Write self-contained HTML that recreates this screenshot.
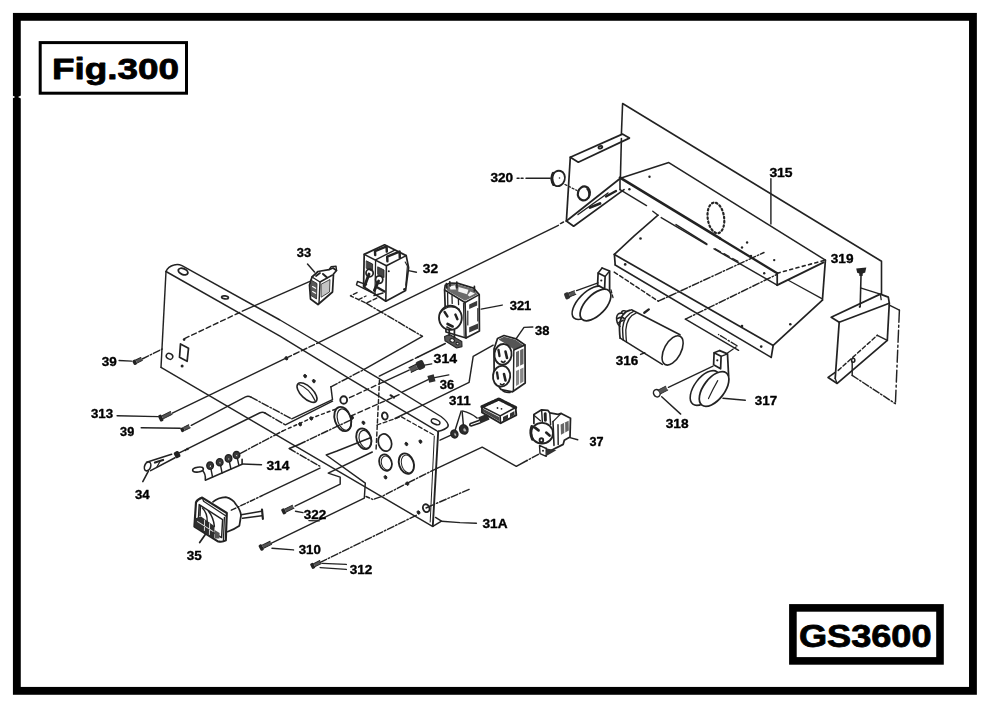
<!DOCTYPE html>
<html><head><meta charset="utf-8"><title>Fig.300 GS3600</title>
<style>
html,body{margin:0;padding:0;background:#fff;}
body{width:1000px;height:718px;overflow:hidden;font-family:"Liberation Sans",sans-serif;}
svg{display:block;}
svg text{font-family:"Liberation Sans",sans-serif;font-weight:bold;fill:#000;}
</style></head><body>
<svg width="1000" height="718" viewBox="0 0 1000 718" stroke-linecap="round" stroke-linejoin="round">
<defs><filter id="soft" x="0" y="0" width="1000" height="718" filterUnits="userSpaceOnUse"><feGaussianBlur stdDeviation="0.38"/></filter></defs>
<rect x="0" y="0" width="1000" height="718" fill="#fff"/>
<rect x="16.85" y="16.85" width="956.1" height="674" fill="none" stroke="#000" stroke-width="7.85" stroke-linejoin="miter"/><path d="M12.5,95.6 L15.2,97 L12.5,98.4 Z M21.5,95.2 L18,97 L21.5,98.8 Z" fill="#fff"/>
<rect x="40.2" y="42.6" width="146.3" height="50.6" fill="#fff" stroke="#000" stroke-width="3" stroke-linejoin="miter"/>
<rect x="792.9" y="607.9" width="147.1" height="53" fill="#fff" stroke="#000" stroke-width="7.6" stroke-linejoin="miter"/>
<text x="52.0" y="79.0" font-size="29.9" textLength="127.0" lengthAdjust="spacingAndGlyphs" stroke="#000" stroke-width="0.8">Fig.300</text>
<text x="798.9" y="647.2" font-size="31.0" textLength="132.7" lengthAdjust="spacingAndGlyphs" stroke="#000" stroke-width="0.8">GS3600</text>
<g filter="url(#soft)">
<path d="M166,271.5 Q168,266.5 174,265 Q178,263.8 182,265.6 L280,320 L380,379.2 L441,416.5 Q449.5,423 448,426.5 Q446,429.5 437.5,431.5" fill="none" stroke="#242424" stroke-width="1.45"/>
<path d="M166.0,271.5 L280.0,336.1 L350.2,379.2 L436.5,430.6" fill="none" stroke="#242424" stroke-width="1.45"/>
<path d="M166.0,271.5 L161.0,367.4" fill="none" stroke="#242424" stroke-width="1.45"/>
<path d="M161.0,367.4 L432.5,526.3" fill="none" stroke="#242424" stroke-width="1.45"/>
<path d="M438.2,431.5 L432.8,526.3" fill="none" stroke="#242424" stroke-width="1.89"/>
<path d="M434.3,436.0 L430.2,522.0" fill="none" stroke="#242424" stroke-width="1.01"/>
<path d="M432.8,526.3 L441.5,521.2 L435.5,517.4" fill="none" stroke="#242424" stroke-width="1.45"/>
<ellipse cx="183.1" cy="271.6" rx="5.0" ry="2.9" fill="none" stroke="#242424" stroke-width="1.89" transform="rotate(22.0 183.1 271.6)"/>
<ellipse cx="435.6" cy="421.8" rx="4.6" ry="2.4" fill="none" stroke="#242424" stroke-width="1.45" transform="rotate(24.0 435.6 421.8)"/>
<path d="M180.5,343.9 L188.5,348.3 L187.1,361.3 L179.5,357.3 Z" fill="none" stroke="#242424" stroke-width="1.74"/>
<ellipse cx="169.5" cy="356.3" rx="3.4" ry="2.8" fill="none" stroke="#242424" stroke-width="1.45" transform="rotate(30.0 169.5 356.3)"/>
<circle cx="182.1" cy="366.0" r="1.5" fill="#242424"/>
<circle cx="184.1" cy="339.6" r="1.3" fill="#242424"/>
<ellipse cx="225.0" cy="297.4" rx="3.4" ry="1.5" fill="none" stroke="#242424" stroke-width="1.74" transform="rotate(8.0 225.0 297.4)"/>
<path d="M379.5,380.0 L376.0,451.0" fill="none" stroke="#242424" stroke-width="1.45" stroke-dasharray="4 2.5"/>
<path d="M377.0,425.0 L401.0,416.6 L434.5,435.4" fill="none" stroke="#242424" stroke-width="1.30" stroke-dasharray="4 2.5"/>
<ellipse cx="307.0" cy="392.6" rx="12.6" ry="6.0" fill="none" stroke="#242424" stroke-width="1.59" transform="rotate(44.0 307.0 392.6)"/>
<path d="M299,384.5 Q309,388 315,400.5" fill="none" stroke="#242424" stroke-width="1.30"/>
<ellipse cx="342.8" cy="419.0" rx="8.0" ry="12.5" fill="none" stroke="#242424" stroke-width="1.89" transform="rotate(-18.0 342.8 419.0)"/>
<ellipse cx="344.2" cy="419.6" rx="6.6" ry="11.0" fill="none" stroke="#242424" stroke-width="1.16" transform="rotate(-18.0 344.2 419.6)"/>
<ellipse cx="363.8" cy="438.8" rx="7.2" ry="10.6" fill="none" stroke="#242424" stroke-width="1.89" transform="rotate(-18.0 363.8 438.8)"/>
<ellipse cx="365.2" cy="439.4" rx="5.8" ry="9.2" fill="none" stroke="#242424" stroke-width="1.16" transform="rotate(-18.0 365.2 439.4)"/>
<ellipse cx="384.9" cy="442.6" rx="6.5" ry="8.8" fill="none" stroke="#242424" stroke-width="1.74" transform="rotate(-18.0 384.9 442.6)"/>
<ellipse cx="385.5" cy="462.6" rx="6.2" ry="8.4" fill="none" stroke="#242424" stroke-width="1.74" transform="rotate(-18.0 385.5 462.6)"/>
<ellipse cx="386.5" cy="463.0" rx="5.0" ry="7.2" fill="none" stroke="#242424" stroke-width="1.01" transform="rotate(-18.0 386.5 463.0)"/>
<ellipse cx="406.4" cy="463.6" rx="7.3" ry="10.5" fill="none" stroke="#242424" stroke-width="1.89" transform="rotate(-18.0 406.4 463.6)"/>
<ellipse cx="407.6" cy="464.0" rx="6.0" ry="9.2" fill="none" stroke="#242424" stroke-width="1.01" transform="rotate(-18.0 407.6 464.0)"/>
<ellipse cx="343.7" cy="400.0" rx="3.4" ry="3.8" fill="none" stroke="#242424" stroke-width="1.89"/>
<ellipse cx="384.8" cy="416.0" rx="2.8" ry="3.6" fill="none" stroke="#242424" stroke-width="1.89" transform="rotate(-15.0 384.8 416.0)"/>
<ellipse cx="426.2" cy="508.2" rx="3.2" ry="4.0" fill="none" stroke="#242424" stroke-width="1.89" transform="rotate(-20.0 426.2 508.2)"/>
<ellipse cx="305.1" cy="376.1" rx="1.3" ry="1.8" fill="#242424" stroke="#242424" stroke-width="0.87" transform="rotate(-25.0 305.1 376.1)"/>
<ellipse cx="313.8" cy="381.1" rx="1.3" ry="1.8" fill="#242424" stroke="#242424" stroke-width="0.87" transform="rotate(-25.0 313.8 381.1)"/>
<ellipse cx="363.4" cy="422.8" rx="1.3" ry="1.8" fill="#242424" stroke="#242424" stroke-width="0.87" transform="rotate(-25.0 363.4 422.8)"/>
<ellipse cx="406.4" cy="444.0" rx="1.3" ry="1.8" fill="#242424" stroke="#242424" stroke-width="0.87" transform="rotate(-25.0 406.4 444.0)"/>
<ellipse cx="420.4" cy="441.6" rx="1.3" ry="1.8" fill="#242424" stroke="#242424" stroke-width="0.87" transform="rotate(-25.0 420.4 441.6)"/>
<ellipse cx="385.5" cy="477.3" rx="1.3" ry="1.8" fill="#242424" stroke="#242424" stroke-width="0.87" transform="rotate(-25.0 385.5 477.3)"/>
<ellipse cx="407.4" cy="483.6" rx="1.3" ry="1.8" fill="#242424" stroke="#242424" stroke-width="0.87" transform="rotate(-25.0 407.4 483.6)"/>
<ellipse cx="352.0" cy="417.6" rx="1.3" ry="1.8" fill="#242424" stroke="#242424" stroke-width="0.87" transform="rotate(-25.0 352.0 417.6)"/>
<ellipse cx="300.1" cy="424.3" rx="1.3" ry="1.8" fill="#242424" stroke="#242424" stroke-width="0.87" transform="rotate(-25.0 300.1 424.3)"/>
<ellipse cx="311.2" cy="418.4" rx="1.3" ry="1.8" fill="#242424" stroke="#242424" stroke-width="0.87" transform="rotate(-25.0 311.2 418.4)"/>
<ellipse cx="286.4" cy="358.3" rx="1.3" ry="1.8" fill="#242424" stroke="#242424" stroke-width="0.87" transform="rotate(-25.0 286.4 358.3)"/>
<ellipse cx="418.5" cy="512.5" rx="1.3" ry="1.8" fill="#242424" stroke="#242424" stroke-width="0.87" transform="rotate(-25.0 418.5 512.5)"/>
<path d="M441.5,521.2 L460.0,522.6 L476.4,523.2" fill="none" stroke="#242424" stroke-width="1.45"/>
<g transform="translate(134.5 362.4) rotate(-26.0)">
<rect x="-1.6" y="-2.6" width="3.6" height="5.2" rx="1.2" fill="#242424"/>
<rect x="2" y="-1.7" width="6.0" height="3.4" fill="#555"/>
<path d="M2,-1.7 H8.0 M2,1.7 H8.0" stroke="#242424" stroke-width="0.9"/>
</g>
<path d="M119.1,360.5 L131.5,361.1" fill="none" stroke="#242424" stroke-width="1.45"/>
<path d="M142.2,359.0 L162.2,349.0" fill="none" stroke="#242424" stroke-width="1.45" stroke-dasharray="7 2 1.5 2"/>
<path d="M184.5,338.6 L242.3,311.2" fill="none" stroke="#242424" stroke-width="1.45" stroke-dasharray="5 3"/>
<path d="M242.3,311.2 L310.5,281.1" fill="none" stroke="#242424" stroke-width="1.45"/>
<g transform="translate(160.6 418.2) rotate(-26.0)">
<rect x="-1.6" y="-3.4" width="3.6" height="6.8" rx="1.2" fill="#242424"/>
<rect x="2" y="-1.7" width="10.0" height="3.4" fill="#555"/>
<path d="M2,-1.7 H12.0 M2,1.7 H12.0" stroke="#242424" stroke-width="0.9"/>
</g>
<path d="M117.1,415.8 L158.2,416.6" fill="none" stroke="#242424" stroke-width="1.45"/>
<path d="M172.3,413.2 L286.0,358.2" fill="none" stroke="#242424" stroke-width="1.45"/>
<path d="M286.0,358.2 L318.5,342.6" fill="none" stroke="#242424" stroke-width="1.45" stroke-dasharray="6 2.5"/>
<path d="M318.5,342.6 L558.4,225.3" fill="none" stroke="#242424" stroke-width="1.45"/>
<path d="M560.5,223.6 L563.5,222.0" fill="none" stroke="#242424" stroke-width="1.45"/>
<g transform="translate(182.3 429.8) rotate(-26.0)">
<rect x="-1.6" y="-2.2" width="3.6" height="4.4" rx="1.2" fill="#242424"/>
<rect x="2" y="-1.7" width="6.0" height="3.4" fill="#555"/>
<path d="M2,-1.7 H8.0 M2,1.7 H8.0" stroke="#242424" stroke-width="0.9"/>
</g>
<path d="M141.2,427.7 L180.3,428.3" fill="none" stroke="#242424" stroke-width="1.45"/>
<path d="M191.3,425.3 L245.5,396.8 Q248.5,395.6 251,397.2" fill="none" stroke="#242424" stroke-width="1.45"/>
<path d="M251.0,397.2 L291.7,418.8" fill="none" stroke="#242424" stroke-width="1.45" stroke-dasharray="7 2 1.5 2"/>
<path d="M291.7,418.8 L332.5,399.6 L330.9,386.8" fill="none" stroke="#242424" stroke-width="1.45"/>
<path d="M330.9,386.8 L364.2,369.4" fill="none" stroke="#242424" stroke-width="1.45" stroke-dasharray="7 2 1.5 2"/>
<path d="M178.3,453.3 L259.5,413.0 Q262.5,411.6 265,413.0" fill="none" stroke="#242424" stroke-width="1.45"/>
<path d="M265.0,413.0 L285.3,424.8" fill="none" stroke="#242424" stroke-width="1.45" stroke-dasharray="7 2 1.5 2"/>
<path d="M285.3,424.8 L332.5,401.2" fill="none" stroke="#242424" stroke-width="1.45"/>
<path d="M240.5,453.3 L282.9,430.9" fill="none" stroke="#242424" stroke-width="1.45" stroke-dasharray="7 2 1.5 2"/>
<path d="M282.9,430.9 L311.7,418.0 L336.0,409.0" fill="none" stroke="#242424" stroke-width="1.45" stroke-dasharray="3 3"/>
<path d="M298.9,444.5 L332.5,428.5 L352.0,419.5" fill="none" stroke="#242424" stroke-width="1.45" stroke-dasharray="7 2 1.5 2"/>
<path d="M242.5,464.0 L261.5,464.8" fill="none" stroke="#242424" stroke-width="1.45"/>
<path d="M231.3,510.2 L262.0,495.7" fill="none" stroke="#242424" stroke-width="1.45" stroke-dasharray="5 2 1.5 2"/>
<path d="M262.0,495.7 L320.0,468.1" fill="none" stroke="#242424" stroke-width="1.45"/>
<g transform="translate(283.5 511.5) rotate(-26.0)">
<rect x="-1.6" y="-3.0" width="3.6" height="6.0" rx="1.2" fill="#242424"/>
<rect x="2" y="-1.7" width="9.0" height="3.4" fill="#555"/>
<path d="M2,-1.7 H11.0 M2,1.7 H11.0" stroke="#242424" stroke-width="0.9"/>
</g>
<path d="M295.5,511.2 L303.0,512.6" fill="none" stroke="#242424" stroke-width="1.45"/>
<path d="M309.0,520.6 L319.0,520.9" fill="none" stroke="#242424" stroke-width="1.45"/>
<path d="M295.1,506.2 L340.2,484.1 L340.2,477.1 L328.2,473.1 L372.3,452.0" fill="none" stroke="#242424" stroke-width="1.45"/>
<g transform="translate(261.0 547.6) rotate(-26.0)">
<rect x="-1.6" y="-3.2" width="3.6" height="6.4" rx="1.2" fill="#242424"/>
<rect x="2" y="-1.7" width="9.0" height="3.4" fill="#555"/>
<path d="M2,-1.7 H11.0 M2,1.7 H11.0" stroke="#242424" stroke-width="0.9"/>
</g>
<path d="M272.0,548.3 L293.5,549.9" fill="none" stroke="#242424" stroke-width="1.45"/>
<path d="M271.0,543.3 L364.3,498.2 L365.3,483.1 L326.2,455.0 L337.0,451.0 L371.0,437.5" fill="none" stroke="#242424" stroke-width="1.45"/>
<g transform="translate(312.5 566.0) rotate(-26.0)">
<rect x="-1.6" y="-3.0" width="3.6" height="6.0" rx="1.2" fill="#242424"/>
<rect x="2" y="-1.7" width="7.0" height="3.4" fill="#555"/>
<path d="M2,-1.7 H9.0 M2,1.7 H9.0" stroke="#242424" stroke-width="0.9"/>
</g>
<path d="M322.2,563.4 L346.3,564.4" fill="none" stroke="#242424" stroke-width="1.45"/>
<path d="M320.2,567.6 L346.3,569.4" fill="none" stroke="#242424" stroke-width="1.45"/>
<path d="M320.2,562.4 L416.5,515.2" fill="none" stroke="#242424" stroke-width="1.45" stroke-dasharray="7 2 1.5 2"/>
<path d="M298.9,444.5 L289.3,448.5" fill="none" stroke="#242424" stroke-width="1.45"/>
<path d="M289.3,448.5 L319.7,466.1" fill="none" stroke="#242424" stroke-width="1.45" stroke-dasharray="7 2 1.5 2"/>
<path d="M366.2,303.2 L422.4,336.3" fill="none" stroke="#242424" stroke-width="1.45" stroke-dasharray="7 2 1.5 2"/>
<path d="M422.4,336.3 L364.2,369.4" fill="none" stroke="#242424" stroke-width="1.45"/>
<path d="M445.3,343.5 L418.0,357.0" fill="none" stroke="#242424" stroke-width="1.45"/>
<path d="M418.0,357.0 L411.0,360.4" fill="none" stroke="#242424" stroke-width="1.45" stroke-dasharray="3 2.5"/>
<path d="M411.0,360.4 L379.3,376.1" fill="none" stroke="#242424" stroke-width="1.45"/>
<g transform="translate(420.4 365.0) rotate(154)"><rect x="-4" y="-4.4" width="8" height="8.8" rx="2.2" fill="#2a2a2a"/><rect x="4" y="-2.6" width="7.5" height="5.2" fill="#555"/><path d="M4,-2.6 H11.5 M4,2.6 H11.5" stroke="#141414" stroke-width="1"/></g>
<path d="M424.7,365.1 L431.7,363.9" fill="none" stroke="#242424" stroke-width="1.45"/>
<path d="M409.1,370.1 L383.1,382.1" fill="none" stroke="#242424" stroke-width="1.45"/>
<path d="M383.1,382.1 L347.5,398.6" fill="none" stroke="#242424" stroke-width="1.45" stroke-dasharray="5 3"/>
<path d="M493.2,345.2 L473.2,356.3 L469.1,382.3 L420.0,406.4 L395.0,418.5" fill="none" stroke="#242424" stroke-width="1.45"/>
<rect x="428.2" y="375.1" width="6.5" height="7" fill="#2e2e2e" transform="rotate(-15 431.4 378.6)"/>
<path d="M434.7,377.6 L448.8,374.9" fill="none" stroke="#242424" stroke-width="1.45"/>
<path d="M428.2,379.6 L402.1,392.2" fill="none" stroke="#242424" stroke-width="1.45"/>
<path d="M399.1,394.7 L351.0,416.0" fill="none" stroke="#242424" stroke-width="1.45" stroke-dasharray="5 3"/>
<path d="M390.5,395.2 L394.0,397.6" fill="none" stroke="#242424" stroke-width="2.03"/>
<path d="M461.1,411.1 L455.1,430.2" fill="none" stroke="#242424" stroke-width="1.45"/>
<path d="M462.1,411.1 L463.5,426.2" fill="none" stroke="#242424" stroke-width="1.45"/>
<path d="M463.1,411.1 Q470,412.5 477.2,418.1" fill="none" stroke="#242424" stroke-width="1.45"/>
<path d="M451.0,435.2 L440.0,440.2" fill="none" stroke="#242424" stroke-width="1.45"/>
<path d="M538.4,454.3 L527.0,460.5" fill="none" stroke="#242424" stroke-width="1.45" stroke-dasharray="7 2 1.5 2"/>
<path d="M527.0,460.5 L516.3,466.3 L482.2,447.2 L437.0,468.3" fill="none" stroke="#242424" stroke-width="1.45"/>
<path d="M437.0,468.3 L407.4,483.1 L382.4,496.2 L373.0,499.5 L366.0,496.5" fill="none" stroke="#242424" stroke-width="1.45" stroke-dasharray="7 2 1.5 2"/>
<path d="M469.1,489.4 L434.5,504.2" fill="none" stroke="#242424" stroke-width="1.45" stroke-dasharray="7 2 1.5 2"/>
<path d="M433.0,504.8 L426.0,508.0" fill="none" stroke="#242424" stroke-width="1.45"/>
<ellipse cx="147.6" cy="466.4" rx="3.0" ry="4.6" fill="none" stroke="#242424" stroke-width="1.59" transform="rotate(20.0 147.6 466.4)"/>
<path d="M146.6,462.2 L171.6,454.2" fill="none" stroke="#242424" stroke-width="1.59"/>
<path d="M150.6,470.6 L175.0,457.8" fill="none" stroke="#242424" stroke-width="1.59"/>
<path d="M155.0,462.5 L163.0,460.0" fill="none" stroke="#242424" stroke-width="2.32"/>
<path d="M157.0,466.8 L160.0,461.5" fill="none" stroke="#242424" stroke-width="1.30"/>
<rect x="174.6" y="451.4" width="5.4" height="6.6" rx="1.5" fill="#242424" transform="rotate(-27 177 455)"/>
<path d="M148.4,471.2 L142.8,481.6" fill="none" stroke="#242424" stroke-width="1.59"/>
<circle cx="187.5" cy="449.0" r="1.3" fill="#242424"/>
<circle cx="185.5" cy="450.2" r="1.0" fill="#242424"/>
<ellipse cx="198.0" cy="469.6" rx="5.4" ry="2.4" fill="none" stroke="#242424" stroke-width="1.59" transform="rotate(-8.0 198.0 469.6)"/>
<path d="M202.5,470.5 Q206,474 205.3,480.2 L242.1,464.2 L242.1,459.2" fill="none" stroke="#242424" stroke-width="1.59"/>
<path d="M210.9,468.6 L212.5,476.8" fill="none" stroke="#242424" stroke-width="1.45"/>
<ellipse cx="210.1" cy="465.6" rx="3.3" ry="3.6" fill="#3a3a3a" stroke="#242424" stroke-width="1.45"/>
<ellipse cx="210.5" cy="466.2" rx="1.2" ry="1.3" fill="#ddd" stroke="#242424" stroke-width="0.87"/>
<path d="M220.5,465.2 L222.1,473.1" fill="none" stroke="#242424" stroke-width="1.45"/>
<ellipse cx="219.7" cy="462.2" rx="3.3" ry="3.6" fill="#3a3a3a" stroke="#242424" stroke-width="1.45"/>
<ellipse cx="220.1" cy="462.8" rx="1.2" ry="1.3" fill="#ddd" stroke="#242424" stroke-width="0.87"/>
<path d="M229.3,461.4 L230.9,469.0" fill="none" stroke="#242424" stroke-width="1.45"/>
<ellipse cx="228.5" cy="458.4" rx="3.3" ry="3.6" fill="#3a3a3a" stroke="#242424" stroke-width="1.45"/>
<ellipse cx="228.9" cy="459.0" rx="1.2" ry="1.3" fill="#ddd" stroke="#242424" stroke-width="0.87"/>
<path d="M237.3,458.0 L238.9,465.4" fill="none" stroke="#242424" stroke-width="1.45"/>
<ellipse cx="236.5" cy="455.0" rx="3.3" ry="3.6" fill="#3a3a3a" stroke="#242424" stroke-width="1.45"/>
<ellipse cx="236.9" cy="455.6" rx="1.2" ry="1.3" fill="#ddd" stroke="#242424" stroke-width="0.87"/>
<path d="M213.0,501.9 Q218,497.6 225.8,497.2 Q232.5,498.6 236.0,504.5 Q240.6,510 241.0,515.5 L239.4,525.7 Q234,529.5 227.5,531.7" fill="none" stroke="#242424" stroke-width="1.74"/>
<path d="M196.0,502.2 Q197.5,499.2 202.2,497.6 L226.8,513.0 L225.8,540.4 Q222,542.6 217.5,541.2 L194.4,526.6 Z" fill="#fff" stroke="#242424" stroke-width="2.17"/>
<path d="M199.2,504.6 L222.6,519.6 L221.6,537.6 L198.2,523.0 Z" fill="none" stroke="#242424" stroke-width="1.45"/>
<path d="M202.2,497.6 L203.6,501.2 L226.0,516.0 M224.4,517.4 L223.4,540.6" fill="none" stroke="#242424" stroke-width="1.30"/>
<path d="M194.6,518.4 L201,516.6 L214.6,526.2 L214.0,538.8 L194.6,526.4 Z" fill="#2e2e2e"/>
<path d="M214.6,530 L219.6,533 L219.4,538.6 L214.4,538.4 Z" fill="#555"/>
<path d="M202.4,508 Q207.4,513 207.2,521.4 M208.4,511 Q213.6,517.6 214.4,526.4 M200.4,506.4 L200.0,515.6" fill="none" stroke="#242424" stroke-width="1.45"/>
<path d="M197.6,521.6 L213,531.4 M204.6,520 L204.4,530.6 M209.6,523.6 L209.4,534.4" fill="none" stroke="#ddd" stroke-width="1.01"/>
<path d="M241.1,514.7 L261.5,511.3" fill="none" stroke="#242424" stroke-width="1.59"/>
<path d="M242.6,518.3 L261.8,515.7" fill="none" stroke="#242424" stroke-width="1.59"/>
<path d="M262.0,509.6 L262.9,518.8" fill="none" stroke="#242424" stroke-width="2.17"/>
<path d="M205.3,534.5 L199.7,542.5" fill="none" stroke="#242424" stroke-width="1.74"/>
<path d="M307.5,264.0 L314.5,272.0" fill="none" stroke="#242424" stroke-width="1.45"/>
<path d="M312,277 L318,271.5 L329,269.6 L333,268 L336.5,270.5 L333.5,274 L332.5,292 L318,304.5 L310.5,299 L309.5,285 Z" fill="#fff" stroke="#242424" stroke-width="1.74"/>
<path d="M329,269.6 L331,266.8 L336,266.2 L336.5,270.5" fill="none" stroke="#242424" stroke-width="1.45"/>
<path d="M312.0,277.0 L320.0,282.0 L332.5,275.0" fill="none" stroke="#242424" stroke-width="1.45"/>
<path d="M320.0,282.0 L319.0,303.5" fill="none" stroke="#242424" stroke-width="1.45"/>
<path d="M311,280 L317,283.5 L316.5,299 L311,295.5 Z" fill="#5a5a5a" stroke="#242424" stroke-width="0.8"/>
<path d="M321.5,284 L330,279.5 L329.5,292 L321.5,297 Z" fill="#c4c4c4" stroke="#242424" stroke-width="0.8"/>
<path d="M312.6,286.5 L315.6,288.3" fill="none" stroke="#fff" stroke-width="1.16"/>
<path d="M312.6,291.5 L315.6,293.3" fill="none" stroke="#fff" stroke-width="1.16"/>
<path d="M323.0,274.0 L327.0,277.5" fill="none" stroke="#242424" stroke-width="2.03"/>
<path d="M316.0,276.0 L320.0,273.0" fill="none" stroke="#242424" stroke-width="1.74"/>
<path d="M408.6,270.6 L416.4,272.2" fill="none" stroke="#242424" stroke-width="1.45"/>
<path d="M364.2,254.4 L384.6,244.8 L406.2,255.6 L408.6,267.6 L405.6,290.4 L385.8,301.2 L363.6,286.8 Z" fill="#fff" stroke="#242424" stroke-width="1.74"/>
<path d="M364.2,254.4 L386.4,265.8 L406.2,255.6" fill="none" stroke="#242424" stroke-width="1.59"/>
<path d="M386.4,265.8 L385.8,301.2" fill="none" stroke="#242424" stroke-width="1.59"/>
<path d="M375.6,259.8 L394.8,250.2" fill="none" stroke="#242424" stroke-width="1.30"/>
<path d="M375.6,259.8 L375.0,294.0" fill="none" stroke="#242424" stroke-width="1.30"/>
<path d="M375.2,255 L375,251.2 L386.6,246.4 L386.8,251.6" fill="none" stroke="#242424" stroke-width="2.46"/>
<path d="M387.4,261.2 L387.2,256.6 L399.6,251.6 L399.8,257.6" fill="none" stroke="#242424" stroke-width="2.46"/>
<path d="M366.6,261 L372.6,264 L372.6,271.4 L366.6,268.4 Z" fill="#444" stroke="#242424" stroke-width="0.9"/>
<path d="M378,267 L384,270 L384,277.6 L378,274.6 Z" fill="#444" stroke="#242424" stroke-width="0.9"/>
<ellipse cx="369.6" cy="273.0" rx="3.6" ry="3.8" fill="none" stroke="#242424" stroke-width="1.74"/>
<ellipse cx="379.2" cy="279.6" rx="3.6" ry="3.8" fill="none" stroke="#242424" stroke-width="1.74"/>
<path d="M369.0,274.0 L364.8,285.6" fill="none" stroke="#242424" stroke-width="2.90"/>
<path d="M378.6,281.0 L374.4,290.4" fill="none" stroke="#242424" stroke-width="2.90"/>
<path d="M366.5,284.6 L357.5,281.5 L356.5,284.8 L372.0,292.6" fill="none" stroke="#242424" stroke-width="1.45"/>
<path d="M374.0,295.5 L383.0,293.0" fill="none" stroke="#242424" stroke-width="1.45"/>
<path d="M377.5,287.5 L384.5,291.5" fill="none" stroke="#242424" stroke-width="2.32"/>
<path d="M405.2,262.0 L407.4,266.0 L405.8,285.2" fill="none" stroke="#242424" stroke-width="1.16"/>
<circle cx="404.4" cy="289.2" r="1.2" fill="#242424"/>
<circle cx="388.8" cy="271.2" r="1.0" fill="#242424"/>
<path d="M357.0,292.6 L350.4,295.8 L366.2,303.2 L377.0,298.0" fill="none" stroke="#242424" stroke-width="1.45" stroke-dasharray="4 2.5"/>
<path d="M358.5,299.6 L366.0,296.0" fill="none" stroke="#242424" stroke-width="1.30" stroke-dasharray="4 2.5"/>
<path d="M481.2,309.1 L502.2,305.1" fill="none" stroke="#242424" stroke-width="1.45"/>
<path d="M444.6,290 L445.2,285.4 L450,283.0 L458,283.4 L473.5,288.2 L479.2,294.6 L479.4,331 L466,338 L446,332 Z" fill="#fff" stroke="#242424" stroke-width="1.74"/>
<path d="M465.0,302.5 L479.2,294.6" fill="none" stroke="#242424" stroke-width="1.45"/>
<path d="M465.0,302.5 L466.0,338.0" fill="none" stroke="#242424" stroke-width="1.74"/>
<path d="M463.4,303.0 L464.2,336.6" fill="none" stroke="#242424" stroke-width="1.01"/>
<path d="M444.6,290.0 L465.0,302.5" fill="none" stroke="#242424" stroke-width="1.59"/>
<path d="M446,286 L450.4,283.8 L457.6,284.2 L472.8,288.8 L477.6,294.4 L465,300.8 L447,290.6 Z" fill="#6a6a6a"/>
<path d="M449.6,286.6 L455,285.2 L456,289.6 L450.4,289.4 Z M458.6,287 L468.4,289.8 L467,294.2 L458.2,291.6 Z M470.4,291.4 L475,293.6 L469.4,296.6 L467.6,295 Z" fill="#f4f4f4"/>
<path d="M446.4,283.6 L446.8,288 M449.8,281.8 L450,286 M456.8,282 L457,287.6 M474.4,286.4 L474.4,291" fill="none" stroke="#242424" stroke-width="1.74"/>
<path d="M447.6,293 L447.8,305 M452,295.6 L452.2,303.4 M458.4,299.4 L458.6,304.6" fill="none" stroke="#242424" stroke-width="1.30"/>
<ellipse cx="450.4" cy="317.8" rx="11.4" ry="12.0" fill="#fff" stroke="#242424" stroke-width="1.89"/>
<path d="M440.2,313 Q448,303 459.4,309.4" fill="none" stroke="#242424" stroke-width="1.30"/>
<path d="M444.6,312.0 L447.4,316.4" fill="none" stroke="#242424" stroke-width="2.46"/>
<path d="M455.4,314.6 L457.4,319.2" fill="none" stroke="#242424" stroke-width="2.46"/>
<path d="M447.6,324.0 L452.6,326.4" fill="none" stroke="#242424" stroke-width="2.75"/>
<path d="M446.8,327 L452,329.6" fill="none" stroke="#242424" stroke-width="1.45"/>
<path d="M469.2,304.4 L477.2,300.8 L477.2,305.4 L469.2,309 Z" fill="#3a3a3a"/>
<path d="M469.2,327.2 L478,323.4 L478,328.8 L469.2,332.6 Z" fill="#3a3a3a"/>
<path d="M467.8,311.0 L467.8,325.0" fill="none" stroke="#242424" stroke-width="1.16"/>
<path d="M477.8,308.6 L477.8,321.0" fill="none" stroke="#242424" stroke-width="1.16"/>
<path d="M444.6,336.6 L449.6,334.4 L461.8,341.4 L462,346.6 L456.6,348 L445,340.8 Z" fill="#555" stroke="#242424" stroke-width="1.1"/>
<path d="M449.2,329.6 L449.2,335.0" fill="none" stroke="#242424" stroke-width="1.74"/>
<path d="M454.4,330.2 L454.4,337.6" fill="none" stroke="#242424" stroke-width="1.74"/>
<ellipse cx="452.2" cy="340.4" rx="2.3" ry="1.7" fill="#fff" stroke="#242424" stroke-width="1.16" transform="rotate(20.0 452.2 340.4)"/>
<ellipse cx="457.6" cy="343.6" rx="1.6" ry="1.2" fill="#ddd" stroke="#242424" stroke-width="1.01" transform="rotate(20.0 457.6 343.6)"/>
<path d="M516.2,338.6 L524.0,327.4 L532.8,327.0" fill="none" stroke="#242424" stroke-width="1.45"/>
<path d="M494,349 L497.5,338.5 L504,335.5 L516,338.8 L525,345 L525.2,383 L512.5,391.8 L501,389.5 L494.2,380 Z" fill="#fff" stroke="#242424" stroke-width="1.74"/>
<path d="M498.5,339.5 L504,336.8 L515.5,339.8 L523.5,345.5 L514,349.5 L506,344 Z" fill="#555"/>
<path d="M513.8,350.0 L525.0,345.0" fill="none" stroke="#242424" stroke-width="1.45"/>
<path d="M513.8,350.0 L513.4,391.0" fill="none" stroke="#242424" stroke-width="1.45"/>
<ellipse cx="503.0" cy="354.4" rx="8.6" ry="10.4" fill="#fff" stroke="#242424" stroke-width="1.89" transform="rotate(8.0 503.0 354.4)"/>
<ellipse cx="501.6" cy="376.2" rx="8.6" ry="10.4" fill="#fff" stroke="#242424" stroke-width="1.89" transform="rotate(8.0 501.6 376.2)"/>
<path d="M498.5,350.0 L499.5,356.0" fill="none" stroke="#242424" stroke-width="2.32"/>
<path d="M505.5,351.5 L507.0,358.0" fill="none" stroke="#242424" stroke-width="2.61"/>
<path d="M501.5,361.4 Q503.5,363.4 505,361.2" fill="none" stroke="#242424" stroke-width="1.74"/>
<path d="M497.0,372.5 L498.0,378.5" fill="none" stroke="#242424" stroke-width="2.32"/>
<path d="M504.0,374.0 L505.5,380.5" fill="none" stroke="#242424" stroke-width="2.61"/>
<path d="M500.5,384 Q502.5,386 504,383.8" fill="none" stroke="#242424" stroke-width="1.74"/>
<path d="M516,352 L523.5,348.6 L523.5,364 L516,367.6 Z" fill="#666"/>
<path d="M516,371 L523.5,367.6 L523.5,381.5 L516,386 Z" fill="#888"/>
<path d="M519.6,350.4 L519.6,384.0" fill="none" stroke="#fff" stroke-width="1.01"/>
<path d="M502,389.6 Q504,392.8 510,392.4" fill="none" stroke="#242424" stroke-width="1.74"/>
<path d="M482,406.8 L498.8,399.1 L515.6,407.5 L516.3,415.2 L500.6,423.2 L482,412.4 Z" fill="#fff" stroke="#242424" stroke-width="1.89"/>
<path d="M482.0,406.8 L500.2,415.9 L515.6,407.5" fill="none" stroke="#242424" stroke-width="1.59"/>
<path d="M500.2,415.9 L500.6,423.2" fill="none" stroke="#242424" stroke-width="1.45"/>
<path d="M482.0,406.8 L498.8,399.1 L515.6,407.5" fill="none" stroke="#242424" stroke-width="3.19" stroke-dasharray="2 1.6"/>
<path d="M483,408.8 L499.6,417.2 L499.8,421.6 L483,411.8 Z" fill="#444"/>
<path d="M503,417 L508,414.4 L508,418.6 L503,421.2 Z M510,413.4 L514.4,411 L514.6,415 L510,417.4 Z" fill="#333"/>
<circle cx="497.5" cy="408.0" r="0.9" fill="#242424"/>
<circle cx="501.5" cy="408.8" r="0.9" fill="#242424"/>
<path d="M478,417.4 L487,413.8 L489.6,419.4 L480.6,423.6 Z" fill="#2a2a2a"/>
<path d="M478.8,420.6 L470.6,423.4 Q468.6,425.6 471.2,426 L480,423" fill="#fff" stroke="#242424" stroke-width="1.59"/>
<ellipse cx="454.4" cy="434.0" rx="3.4" ry="4.0" fill="#2e2e2e" stroke="#242424" stroke-width="1.45" transform="rotate(-25.0 454.4 434.0)"/>
<ellipse cx="455.3" cy="434.5" rx="1.4" ry="1.8" fill="#bbb" stroke="#242424" stroke-width="0.72" transform="rotate(-25.0 455.3 434.5)"/>
<ellipse cx="463.8" cy="429.4" rx="4.1" ry="4.8" fill="#2e2e2e" stroke="#242424" stroke-width="1.45" transform="rotate(-25.0 463.8 429.4)"/>
<ellipse cx="464.7" cy="429.9" rx="1.7" ry="2.2" fill="#bbb" stroke="#242424" stroke-width="0.72" transform="rotate(-25.0 464.7 429.9)"/>
<path d="M570.0,437.6 L577.7,439.8" fill="none" stroke="#242424" stroke-width="1.45"/>
<path d="M533.9,423.4 L533.9,414.4 L541.6,409.8 L547.8,410.3 L549.8,412.9 L558.1,414.4 L561.2,413.4 L570.5,418.2 L570.0,437.1 L564.3,440.2 L563.2,444.4 L548,452 L546.2,448.5" fill="#fff" stroke="#242424" stroke-width="1.74"/>
<path d="M541.6,409.8 L542.4,422.6" fill="none" stroke="#242424" stroke-width="1.45"/>
<path d="M549.8,412.9 L550.6,424.6" fill="none" stroke="#242424" stroke-width="1.45"/>
<path d="M553.0,421.6 L554.0,445.4" fill="none" stroke="#242424" stroke-width="1.59"/>
<path d="M558.0,424.7 L558.2,444.4" fill="none" stroke="#242424" stroke-width="1.45"/>
<path d="M553.0,421.6 L561.2,413.4" fill="none" stroke="#242424" stroke-width="1.30"/>
<path d="M545.2,413.6 L545.4,420.4" fill="none" stroke="#242424" stroke-width="2.90"/>
<path d="M534.2,415.6 L540.4,420.8" fill="none" stroke="#242424" stroke-width="1.30"/>
<ellipse cx="542.0" cy="433.2" rx="11.0" ry="10.3" fill="#fff" stroke="#242424" stroke-width="1.89"/>
<path d="M531.8,426.4 Q529.6,433 532.4,439.2" fill="none" stroke="#242424" stroke-width="2.90"/>
<path d="M535.0,427.6 L538.6,430.4" fill="none" stroke="#242424" stroke-width="2.61"/>
<path d="M546.2,432.6 L549.6,435.6" fill="none" stroke="#242424" stroke-width="2.61"/>
<ellipse cx="541.4" cy="440.2" rx="1.8" ry="1.9" fill="none" stroke="#242424" stroke-width="1.89"/>
<path d="M560.6,424.4 L568.6,420.8 L568.8,430.4 L561.0,434.8 Z" fill="#666"/>
<path d="M564.6,422.8 L564.8,432.4" fill="none" stroke="#fff" stroke-width="1.01"/>
<path d="M539.5,445.4 L546.2,448.5 L546.2,456.4 L540,453.6 Z" fill="#fff" stroke="#242424" stroke-width="1.4"/>
<circle cx="543.0" cy="450.8" r="1.0" fill="#242424"/>
<path d="M546.8,448.6 L556.4,450.2 L546.8,455.8 Z" fill="#333"/>
<path d="M517.1,178.3 L524.0,178.3" fill="none" stroke="#242424" stroke-width="1.45" stroke-dasharray="2 2"/>
<path d="M526.0,178.3 L550.2,178.3" fill="none" stroke="#242424" stroke-width="1.45"/>
<ellipse cx="558.2" cy="178.4" rx="6.6" ry="7.8" fill="none" stroke="#242424" stroke-width="1.89" transform="rotate(18.0 558.2 178.4)"/>
<path d="M553.2,173.2 Q550.4,178.5 553.6,184.6" fill="none" stroke="#242424" stroke-width="2.90"/>
<circle cx="559.5" cy="178.0" r="0.8" fill="#242424"/>
<path d="M565.0,184.5 L577.0,190.5" fill="none" stroke="#242424" stroke-width="1.30" stroke-dasharray="2 2"/>
<path d="M570.3,157.2 L566.4,221.0" fill="none" stroke="#242424" stroke-width="1.74"/>
<path d="M570.3,157.2 L622.4,134.1 L629.4,138.1 L578.3,162.2 Z" fill="none" stroke="#242424" stroke-width="1.74"/>
<path d="M621.4,138.6 L620.4,178.3" fill="none" stroke="#242424" stroke-width="1.59"/>
<path d="M566.4,221.0 L573.6,226.2 L624.0,189.6" fill="none" stroke="#242424" stroke-width="1.74"/>
<path d="M566.4,221.0 L620.4,178.3" fill="none" stroke="#242424" stroke-width="1.74"/>
<path d="M578.0,214.5 L608.0,193.0" fill="none" stroke="#242424" stroke-width="1.45"/>
<path d="M590.0,207.5 L600.0,203.5" fill="none" stroke="#242424" stroke-width="2.90"/>
<path d="M606.0,196.5 L616.0,191.0" fill="none" stroke="#242424" stroke-width="2.32"/>
<ellipse cx="583.9" cy="193.4" rx="6.0" ry="7.0" fill="none" stroke="#242424" stroke-width="2.17" transform="rotate(15.0 583.9 193.4)"/>
<path d="M587,189 Q590,192 588.5,198" fill="none" stroke="#242424" stroke-width="1.45"/>
<ellipse cx="600.4" cy="147.2" rx="2.0" ry="1.2" fill="none" stroke="#242424" stroke-width="1.74" transform="rotate(-20.0 600.4 147.2)"/>
<path d="M621.4,134.1 L622.6,103.5 L881.5,261.2 L881.5,294.0" fill="none" stroke="#242424" stroke-width="1.59"/>
<ellipse cx="715.9" cy="217.9" rx="8.2" ry="15.4" fill="none" stroke="#242424" stroke-width="2.17" stroke-dasharray="1.6 2.6" transform="rotate(-8.0 715.9 217.9)"/>
<path d="M620.0,177.6 L720.0,238.4" fill="none" stroke="#242424" stroke-width="2.75"/>
<path d="M720.0,238.4 L777.2,273.2" fill="none" stroke="#242424" stroke-width="2.32"/>
<path d="M620.4,178.3 L668.8,162.6 L825.4,260.1" fill="none" stroke="#242424" stroke-width="1.59"/>
<path d="M620.0,178.0 L620.0,189.6" fill="none" stroke="#242424" stroke-width="1.59"/>
<path d="M620.0,189.6 L646.5,205.6" fill="none" stroke="#242424" stroke-width="1.45"/>
<path d="M676.0,224.6 L706.8,243.8" fill="none" stroke="#242424" stroke-width="1.45"/>
<path d="M714.0,248.8 L777.2,285.2" fill="none" stroke="#242424" stroke-width="1.45"/>
<path d="M777.2,273.2 L777.2,285.2" fill="none" stroke="#242424" stroke-width="1.74"/>
<path d="M777.2,273.2 L825.4,260.1" fill="none" stroke="#242424" stroke-width="1.59" stroke-dasharray="3 3.5"/>
<path d="M777.2,285.2 L823.6,262.4" fill="none" stroke="#242424" stroke-width="1.89"/>
<path d="M825.4,260.1 L822.4,300.2" fill="none" stroke="#242424" stroke-width="1.74"/>
<path d="M788.3,280.2 L821.4,298.4" fill="none" stroke="#242424" stroke-width="1.30"/>
<path d="M770.9,178.8 L770.9,223.9" fill="none" stroke="#242424" stroke-width="1.45"/>
<circle cx="649.5" cy="176.7" r="1.2" fill="#242424"/>
<circle cx="629.4" cy="189.3" r="1.2" fill="#242424"/>
<circle cx="747.1" cy="242.5" r="1.2" fill="#242424"/>
<circle cx="774.2" cy="260.1" r="1.2" fill="#242424"/>
<circle cx="764.2" cy="273.2" r="1.2" fill="#242424"/>
<circle cx="742.0" cy="247.5" r="1.2" fill="#242424"/>
<circle cx="751.0" cy="256.0" r="1.2" fill="#242424"/>
<path d="M614.4,254.4 L634.5,235.6 L658.0,215.2" fill="none" stroke="#242424" stroke-width="1.59"/>
<path d="M614.4,254.4 L615.2,265.0" fill="none" stroke="#242424" stroke-width="1.74"/>
<path d="M614.4,254.4 L773.2,345.4" fill="none" stroke="#242424" stroke-width="1.74"/>
<path d="M615.2,265.0 L771.2,357.4" fill="none" stroke="#242424" stroke-width="1.59"/>
<path d="M773.2,345.4 L771.2,357.4" fill="none" stroke="#242424" stroke-width="1.74"/>
<path d="M773.2,345.4 L822.4,300.2" fill="none" stroke="#242424" stroke-width="1.74"/>
<circle cx="625.2" cy="264.4" r="1.3" fill="#242424"/>
<circle cx="761.2" cy="346.6" r="1.3" fill="#242424"/>
<circle cx="790.3" cy="324.3" r="1.3" fill="#242424"/>
<circle cx="640.5" cy="238.5" r="1.3" fill="#242424"/>
<circle cx="742.0" cy="326.0" r="1.3" fill="#242424"/>
<path d="M614.2,272.1 L658.3,301.2" fill="none" stroke="#242424" stroke-width="1.45" stroke-dasharray="4 2.5"/>
<path d="M658.3,301.2 L764.0,252.5" fill="none" stroke="#242424" stroke-width="1.45" stroke-dasharray="7 2 1.5 2"/>
<path d="M685.4,319.2 L777.0,274.4" fill="none" stroke="#242424" stroke-width="1.45" stroke-dasharray="7 2 1.5 2"/>
<path d="M685.4,319.2 L738.6,350.3" fill="none" stroke="#242424" stroke-width="1.45"/>
<path d="M658.0,215.2 L652.8,211.2" fill="none" stroke="#242424" stroke-width="1.45"/>
<path d="M661.2,217.6 L706.8,244.6" fill="none" stroke="#242424" stroke-width="1.45"/>
<path d="M715.2,248.8 L740.0,262.5" fill="none" stroke="#242424" stroke-width="1.30" stroke-dasharray="6 4"/>
<path d="M631.5,309.8 L680.0,334.8" fill="none" stroke="#242424" stroke-width="1.59"/>
<path d="M620.2,338.2 L662.3,364.4" fill="none" stroke="#242424" stroke-width="1.59"/>
<ellipse cx="672.6" cy="350.4" rx="8.4" ry="16.0" fill="none" stroke="#242424" stroke-width="1.59" transform="rotate(28.0 672.6 350.4)"/>
<path d="M630.2,310.2 Q621,312 619.4,326 Q619.6,335.5 620.2,338.2" fill="none" stroke="#242424" stroke-width="1.74"/>
<path d="M633.2,311.6 Q624,315 622.6,328 Q622.8,337 623.4,340.2" fill="none" stroke="#242424" stroke-width="1.45"/>
<path d="M636,313.2 Q627,316.5 625.8,330 Q626,339 626.6,342.2" fill="none" stroke="#242424" stroke-width="1.30"/>
<path d="M622.5,313.2 Q617.2,312.4 616.6,317.5 Q616.2,323 620,326.4 M617.5,318.6 Q621.5,316.2 624.5,318.6 M619,322.4 L623.2,320.2 M626.5,311.4 Q622.6,309.6 621.2,312.8" fill="none" stroke="#242424" stroke-width="1.59"/>
<path d="M644.3,312.8 L648.8,309.4" fill="none" stroke="#242424" stroke-width="2.32"/>
<path d="M640.6,354.4 L644.8,352.8" fill="none" stroke="#242424" stroke-width="1.45"/>
<ellipse cx="588.4" cy="302.8" rx="21.0" ry="10.0" fill="none" stroke="#242424" stroke-width="1.59" transform="rotate(-46.0 588.4 302.8)"/>
<ellipse cx="595.5" cy="305.0" rx="19.6" ry="10.0" fill="#fff" stroke="#242424" stroke-width="1.74" transform="rotate(-46.0 595.5 305.0)"/>
<path d="M602.1,268.0 L609.6,271.0 L609.6,290.0" fill="none" stroke="#242424" stroke-width="1.74"/>
<path d="M602.1,268.0 L598.1,273.0" fill="none" stroke="#242424" stroke-width="1.59"/>
<path d="M598.1,273.0 L605.1,276.5 L604.6,289.0 L597.6,285.0 Z" fill="#fff" stroke="#242424" stroke-width="1.74"/>
<path d="M605.1,276.5 L609.6,271.0" fill="none" stroke="#242424" stroke-width="1.30"/>
<circle cx="601.3" cy="280.5" r="1.1" fill="#242424"/>
<g transform="translate(567.6 295.6) rotate(-22)"><rect x="-3" y="-3.4" width="5" height="6.8" rx="1.6" fill="#333"/><rect x="2" y="-2" width="6.2" height="4" fill="#555"/><path d="M2,-2 H8.2 M2,2 H8.2" stroke="#242424" stroke-width="0.9"/></g>
<path d="M576.5,290.6 L598.1,282.8" fill="none" stroke="#242424" stroke-width="1.30"/>
<path d="M611.0,290.0 L613.0,297.5" fill="none" stroke="#242424" stroke-width="1.30" stroke-dasharray="3 2"/>
<ellipse cx="705.0" cy="388.0" rx="20.2" ry="10.6" fill="none" stroke="#242424" stroke-width="1.59" transform="rotate(-53.0 705.0 388.0)"/>
<ellipse cx="714.1" cy="389.0" rx="20.2" ry="10.6" fill="#fff" stroke="#242424" stroke-width="1.74" transform="rotate(-53.0 714.1 389.0)"/>
<path d="M708.5,398.6 Q712.6,389.5 717.7,380.6" fill="none" stroke="#242424" stroke-width="1.16"/>
<path d="M719.7,350.6 L727.5,353.9 L728.6,375.8" fill="none" stroke="#242424" stroke-width="1.74"/>
<path d="M719.7,350.6 L714.1,352.8" fill="none" stroke="#242424" stroke-width="1.59"/>
<path d="M714.1,352.8 L721.1,356.3 L720.6,368.8 L713.6,364.8 Z" fill="#fff" stroke="#242424" stroke-width="1.74"/>
<path d="M721.1,356.3 L727.5,353.9" fill="none" stroke="#242424" stroke-width="1.30"/>
<circle cx="717.3" cy="360.3" r="1.1" fill="#242424"/>
<path d="M723.0,398.2 L745.3,400.2" fill="none" stroke="#242424" stroke-width="1.45"/>
<g transform="translate(656.8 393.2) rotate(-27)"><ellipse cx="0" cy="0" rx="3.2" ry="3.8" fill="#fff" stroke="#242424" stroke-width="1.5"/><rect x="3" y="-2.2" width="8.2" height="4.4" fill="#555"/><path d="M3,-2.2 H11.2 M3,2.2 H11.2" stroke="#242424" stroke-width="0.9"/></g>
<path d="M668.4,387.4 L713.0,366.2" fill="none" stroke="#242424" stroke-width="1.30"/>
<path d="M661.7,396.8 L680.7,414.1" fill="none" stroke="#242424" stroke-width="1.45"/>
<path d="M727.5,353.0 L737.4,346.0 L718.5,334.5" fill="none" stroke="#242424" stroke-width="1.30" stroke-dasharray="7 2 1.5 2"/>
<path d="M856.2,268.4 L866.3,267.6 L865.2,272.6 L862.8,273.4 L862.6,276 L859.4,276 L859.2,273.4 L857.2,272.8 Z" fill="#242424"/>
<path d="M861.0,276.0 L860.2,306.2" fill="none" stroke="#242424" stroke-width="1.59"/>
<path d="M831.2,317.2 L880.3,294.1 L888.3,297.1 L889.3,303.2 L839.2,322.2 Z" fill="none" stroke="#242424" stroke-width="1.74"/>
<path d="M861.2,288.1 L880.3,294.1" fill="none" stroke="#242424" stroke-width="1.45"/>
<path d="M880.3,294.1 L881.2,299.6" fill="none" stroke="#242424" stroke-width="1.30"/>
<path d="M839.2,322.2 L835.2,378.4" fill="none" stroke="#242424" stroke-width="1.74"/>
<path d="M889.3,303.2 L887.3,340.3" fill="none" stroke="#242424" stroke-width="1.74"/>
<path d="M835.2,372.4 L828.1,377.4 L837.2,383.4 L887.3,340.3" fill="none" stroke="#242424" stroke-width="1.74"/>
<path d="M835.2,378.4 L837.2,383.4" fill="none" stroke="#242424" stroke-width="1.30"/>
<path d="M838.2,370.4 L877.3,335.3" fill="none" stroke="#242424" stroke-width="1.45" stroke-dasharray="4 2.5"/>
<path d="M877.3,335.3 L887.3,340.3" fill="none" stroke="#242424" stroke-width="1.45"/>
<ellipse cx="853.2" cy="360.3" rx="1.6" ry="2.0" fill="none" stroke="#242424" stroke-width="1.59"/>
<path d="M852.2,362.3 L852.2,375.4" fill="none" stroke="#242424" stroke-width="1.45"/>
<path d="M852.2,375.4 L895.4,403.7" fill="none" stroke="#242424" stroke-width="1.45" stroke-dasharray="7 2 1.5 2"/>
<path d="M889.3,305.2 L899.4,310.2" fill="none" stroke="#242424" stroke-width="1.45"/>
<path d="M899.4,310.2 L895.4,403.7" fill="none" stroke="#242424" stroke-width="1.45" stroke-dasharray="12 3 2 3"/>
<circle cx="859.8" cy="306.8" r="1.1" fill="#242424"/>
</g>
<text x="296.8" y="256.6" font-size="12.6" textLength="14.3" lengthAdjust="spacingAndGlyphs" stroke="#000" stroke-width="0.35">33</text>
<text x="422.8" y="273.1" font-size="12.6" textLength="15.2" lengthAdjust="spacingAndGlyphs" stroke="#000" stroke-width="0.35">32</text>
<text x="509.7" y="310.1" font-size="12.6" textLength="21.6" lengthAdjust="spacingAndGlyphs" stroke="#000" stroke-width="0.35">321</text>
<text x="535.0" y="334.6" font-size="12.6" textLength="14.4" lengthAdjust="spacingAndGlyphs" stroke="#000" stroke-width="0.35">38</text>
<text x="433.6" y="362.9" font-size="12.6" textLength="23.5" lengthAdjust="spacingAndGlyphs" stroke="#000" stroke-width="0.35">314</text>
<text x="439.7" y="388.8" font-size="12.6" textLength="14.4" lengthAdjust="spacingAndGlyphs" stroke="#000" stroke-width="0.35">36</text>
<text x="449.1" y="404.8" font-size="12.6" textLength="21.5" lengthAdjust="spacingAndGlyphs" stroke="#000" stroke-width="0.35">311</text>
<text x="589.5" y="445.8" font-size="12.6" textLength="14.0" lengthAdjust="spacingAndGlyphs" stroke="#000" stroke-width="0.35">37</text>
<text x="101.7" y="365.7" font-size="12.6" textLength="15.0" lengthAdjust="spacingAndGlyphs" stroke="#000" stroke-width="0.35">39</text>
<text x="91.0" y="418.2" font-size="12.6" textLength="22.1" lengthAdjust="spacingAndGlyphs" stroke="#000" stroke-width="0.35">313</text>
<text x="120.1" y="435.9" font-size="12.6" textLength="14.1" lengthAdjust="spacingAndGlyphs" stroke="#000" stroke-width="0.35">39</text>
<text x="135.0" y="498.6" font-size="12.6" textLength="14.7" lengthAdjust="spacingAndGlyphs" stroke="#000" stroke-width="0.35">34</text>
<text x="266.4" y="469.7" font-size="12.6" textLength="23.1" lengthAdjust="spacingAndGlyphs" stroke="#000" stroke-width="0.35">314</text>
<text x="186.8" y="560.4" font-size="12.6" textLength="15.0" lengthAdjust="spacingAndGlyphs" stroke="#000" stroke-width="0.35">35</text>
<text x="303.7" y="518.6" font-size="12.6" textLength="22.5" lengthAdjust="spacingAndGlyphs" stroke="#000" stroke-width="0.35">322</text>
<text x="298.7" y="553.9" font-size="12.6" textLength="22.1" lengthAdjust="spacingAndGlyphs" stroke="#000" stroke-width="0.35">310</text>
<text x="349.7" y="574.0" font-size="12.6" textLength="22.6" lengthAdjust="spacingAndGlyphs" stroke="#000" stroke-width="0.35">312</text>
<text x="482.5" y="527.6" font-size="12.6" textLength="25.0" lengthAdjust="spacingAndGlyphs" stroke="#000" stroke-width="0.35">31A</text>
<text x="490.4" y="181.9" font-size="12.6" textLength="22.7" lengthAdjust="spacingAndGlyphs" stroke="#000" stroke-width="0.35">320</text>
<text x="769.4" y="177.3" font-size="12.6" textLength="23.2" lengthAdjust="spacingAndGlyphs" stroke="#000" stroke-width="0.35">315</text>
<text x="830.8" y="263.1" font-size="12.6" textLength="22.7" lengthAdjust="spacingAndGlyphs" stroke="#000" stroke-width="0.35">319</text>
<text x="615.8" y="364.7" font-size="12.6" textLength="22.5" lengthAdjust="spacingAndGlyphs" stroke="#000" stroke-width="0.35">316</text>
<text x="754.8" y="404.9" font-size="12.6" textLength="22.3" lengthAdjust="spacingAndGlyphs" stroke="#000" stroke-width="0.35">317</text>
<text x="665.7" y="428.2" font-size="12.6" textLength="22.9" lengthAdjust="spacingAndGlyphs" stroke="#000" stroke-width="0.35">318</text>
</svg>
</body></html>
